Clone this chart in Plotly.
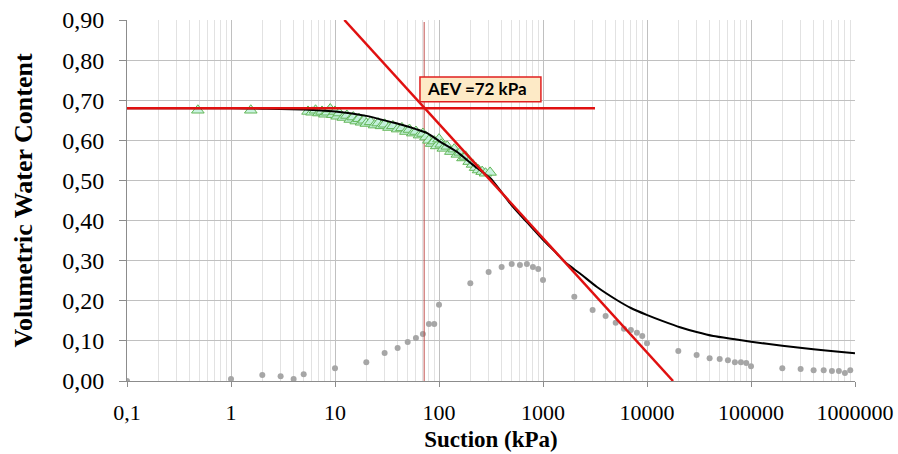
import plotly.graph_objects as go

# ---- data ----
curve_x = [0.1, 1, 2, 5, 10, 20, 34, 42, 60, 77, 102, 148, 214, 310, 500, 700, 1000,
           1355, 1700, 2270, 3280, 5120, 7000, 9930, 14000, 20750, 30000, 43400,
           70000, 100000, 200000, 398000, 700000, 1000000]
curve_y = [0.680, 0.680, 0.679, 0.677, 0.672, 0.661, 0.646, 0.640, 0.628, 0.618,
           0.597, 0.572, 0.538, 0.506, 0.438, 0.396, 0.352, 0.318, 0.292, 0.268,
           0.235, 0.202, 0.182, 0.165, 0.150, 0.134, 0.122, 0.112, 0.104, 0.098,
           0.088, 0.079, 0.073, 0.069]

meas_x = [0.48, 1.55, 5.5, 6.0, 6.5, 7.0, 7.5, 8.0, 8.5, 9.0, 9.5, 10.0, 10.5, 11,
          12, 13, 14, 15, 16, 17, 18, 19, 20, 22, 24, 26, 28, 30, 33, 36, 40, 44,
          48, 52, 56, 60, 65, 70, 75, 80, 85, 90, 95, 100, 105, 110, 120, 130, 140,
          150, 160, 170, 180, 195, 210, 225, 240, 260, 280, 310]
meas_y = [0.675, 0.675, 0.672, 0.670, 0.675, 0.668, 0.672, 0.665, 0.670, 0.678,
          0.664, 0.672, 0.660, 0.668, 0.657, 0.662, 0.652, 0.658, 0.648, 0.654,
          0.645, 0.650, 0.642, 0.646, 0.638, 0.643, 0.636, 0.640, 0.632, 0.636,
          0.628, 0.631, 0.622, 0.627, 0.618, 0.622, 0.613, 0.617, 0.608, 0.600,
          0.592, 0.598, 0.586, 0.603, 0.590, 0.580, 0.585, 0.572, 0.578, 0.565,
          0.570, 0.556, 0.560, 0.547, 0.540, 0.532, 0.526, 0.522, 0.518, 0.520]

dots_x = [0.1, 1, 2, 3, 4, 5, 10, 20, 30, 40, 50, 60, 70, 80, 90, 100, 200, 300,
          400, 500, 600, 700, 800, 900, 1000, 2000, 3000, 4000, 5000, 6000, 7000,
          8000, 9000, 10000, 20000, 30000, 40000, 50000, 60000, 70000, 80000, 90000,
          100000, 200000, 300000, 400000, 500000, 600000, 700000, 800000, 900000]
dots_y = [0.000, 0.005, 0.015, 0.012, 0.005, 0.017, 0.032, 0.047, 0.070, 0.082,
          0.097, 0.107, 0.117, 0.142, 0.142, 0.190, 0.244, 0.272, 0.284, 0.292,
          0.289, 0.292, 0.284, 0.279, 0.252, 0.210, 0.177, 0.162, 0.145, 0.130,
          0.127, 0.120, 0.112, 0.094, 0.075, 0.065, 0.057, 0.055, 0.052, 0.047,
          0.047, 0.045, 0.037, 0.032, 0.030, 0.027, 0.027, 0.025, 0.025, 0.020, 0.027]

hline_x = [0.1, 3160]
hline_y = [0.68, 0.68]
tangent_x = [12.3, 17800]
tangent_y = [0.90, 0.00]
aev = 72
aev_y = [0.0, 0.895]
label_box_x = [65.6, 955]
label_box_y = [0.696, 0.758]

x_tickvals = [0.1, 1, 10, 100, 1000, 10000, 100000, 1000000]
x_ticktext = ["0,1", "1", "10", "100", "1000", "10000", "100000", "1000000"]

fig = go.Figure()
fig.add_trace(go.Scatter(x=dots_x, y=dots_y, mode="markers",
                         marker=dict(color="#a6a6a6", size=6), showlegend=False))
fig.add_trace(go.Scatter(x=[aev, aev], y=aev_y, mode="lines",
                         line=dict(color="#c0504d", width=1), showlegend=False))
fig.add_trace(go.Scatter(x=meas_x, y=meas_y, mode="markers",
                         marker=dict(symbol="triangle-up", size=11,
                                     color="rgba(196,242,222,0.9)",
                                     line=dict(color="#62b556", width=1)),
                         showlegend=False))
fig.add_trace(go.Scatter(x=curve_x, y=curve_y, mode="lines",
                         line=dict(color="#000000", width=2, shape="spline", smoothing=0.6),
                         showlegend=False))
fig.add_trace(go.Scatter(x=hline_x, y=hline_y, mode="lines",
                         line=dict(color="#e01010", width=2.5), showlegend=False))
fig.add_trace(go.Scatter(x=tangent_x, y=tangent_y, mode="lines",
                         line=dict(color="#e01010", width=2.5), showlegend=False))

# AEV label box
fig.add_shape(type="rect", xref="x", yref="y",
              x0=label_box_x[0], x1=label_box_x[1], y0=label_box_y[0], y1=label_box_y[1],
              fillcolor="#fdeac6", line=dict(color="#e02020", width=1.5), layer="above")
fig.add_annotation(x=1.87, y=0.699, xref="x", yref="y", text="<b>AEV =72 kPa</b>",
                   showarrow=False, xanchor="left", yanchor="bottom",
                   font=dict(family="Lato", size=17, color="#000000"))

# y-axis title placed as rotated text
fig.add_annotation(x=-(127 - 23) / 728, y=0.5, xref="paper", yref="paper",
                   text="<b>Volumetric Water Content</b>", textangle=-90,
                   showarrow=False, xanchor="center", yanchor="middle",
                   font=dict(family="Liberation Serif", size=26, color="#000000"))

fig.update_layout(
    width=898, height=454,
    margin=dict(l=127, r=43, t=20, b=73),
    paper_bgcolor="white", plot_bgcolor="white",
    separators=",.",
    xaxis=dict(type="log", range=[-1, 6], tickvals=x_tickvals, ticktext=x_ticktext,
               automargin=False,
               showgrid=True, gridcolor="#c0c0c0", gridwidth=1,
               minor=dict(showgrid=True, gridcolor="#e2e2e2", dtick="D1"),
               showline=True, linecolor="#8c8c8c", ticks="outside", ticklen=5,
               tickcolor="#8c8c8c", ticklabelstandoff=7,
               tickfont=dict(family="Liberation Serif", size=22, color="#000000"),
               title=dict(text="<b>Suction (kPa)</b>", standoff=6,
                          font=dict(family="Liberation Serif", size=23, color="#000000")),
               zeroline=False),
    yaxis=dict(range=[0, 0.9], dtick=0.1, tickformat=".2f",
               automargin=False,
               showgrid=True, gridcolor="#c0c0c0", gridwidth=1,
               showline=True, linecolor="#8c8c8c", ticks="outside", ticklen=7,
               tickcolor="#8c8c8c", ticklabelstandoff=10,
               tickfont=dict(family="Liberation Serif", size=24, color="#000000"),
               zeroline=False),
)

fig.write_html("out.html")
